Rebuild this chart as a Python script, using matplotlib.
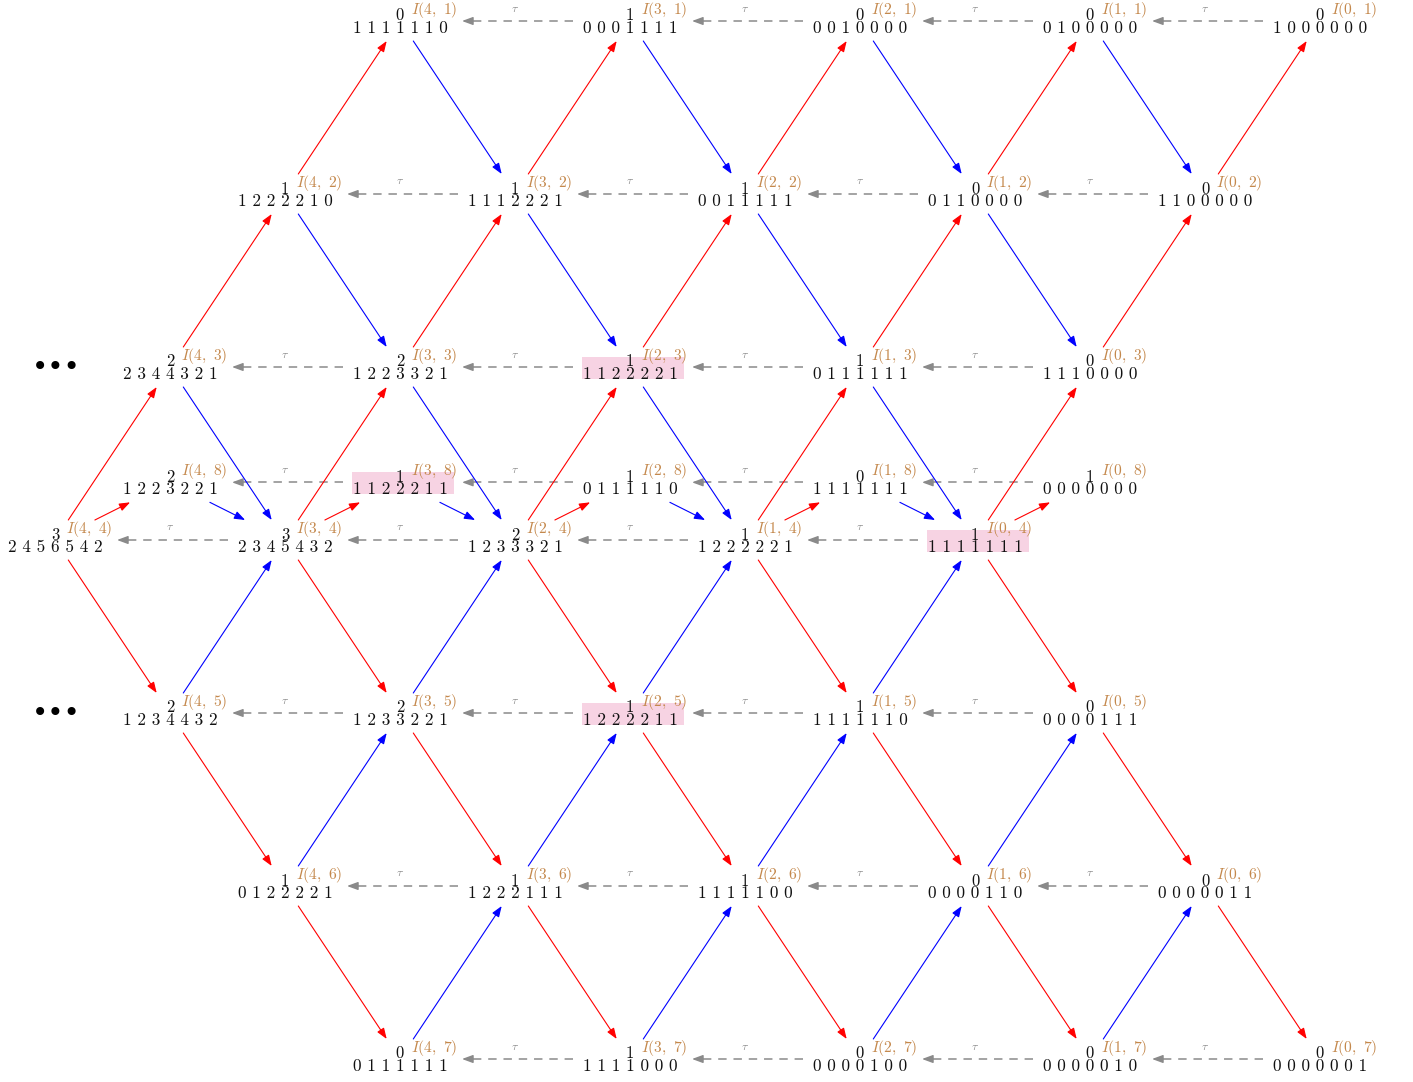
import matplotlib
matplotlib.use("Agg")
import matplotlib.pyplot as plt
from matplotlib.patches import Rectangle

plt.rcParams['mathtext.fontset'] = 'cm'

# ---------------- data ----------------
# modules I(i, r), i = 4..0 ; each entry: (top digit, bottom 7 digits)
ROW_IDS = [1, 2, 3, 8, 4, 5, 6, 7]
I_VALUES = [4, 3, 2, 1, 0]
row1 = [("0", "1111110"), ("1", "0001111"), ("0", "0010000"), ("0", "0100000"), ("0", "1000000")]
row2 = [("1", "1222210"), ("1", "1112221"), ("1", "0011111"), ("0", "0110000"), ("0", "1100000")]
row3 = [("2", "2344321"), ("2", "1223321"), ("1", "1122221"), ("1", "0111111"), ("0", "1110000")]
row8 = [("2", "1223221"), ("1", "1122211"), ("1", "0111110"), ("0", "1111111"), ("1", "0000000")]
row4 = [("3", "2456542"), ("3", "2345432"), ("2", "1233321"), ("1", "1222221"), ("1", "1111111")]
row5 = [("2", "1234432"), ("2", "1233221"), ("1", "1222211"), ("1", "1111110"), ("0", "0000111")]
row6 = [("1", "0122221"), ("1", "1222111"), ("1", "1111100"), ("0", "0000110"), ("0", "0000011")]
row7 = [("0", "0111111"), ("1", "1111000"), ("0", "0000100"), ("0", "0000010"), ("0", "0000001")]
ROWS = {1: row1, 2: row2, 3: row3, 8: row8, 4: row4, 5: row5, 6: row6, 7: row7}
HIGHLIGHT = [(3, 8), (2, 3), (0, 4), (2, 5)]
ELLIPSIS_ROWS = [3, 5]

# ---------------- layout ----------------
X0, DX = 55, 115
Y4, DY = 540, 173
LEVEL = {1: -3, 2: -2, 3: -1, 4: 0, 5: 1, 6: 2, 7: 3}

def row_y(r):
    if r == 8:
        return Y4 - DY / 3.0
    return Y4 + LEVEL[r] * DY

def col_k(i, r):
    if r == 8:
        return 9 - 2 * i
    return 8 - 2 * i + abs(LEVEL[r])

def pos(i, r):
    return X0 + DX * col_k(i, r), row_y(r)

# outward (red) / inward (blue) neighbouring row pairs: (inner, outer)
PAIRS = [(4, 3), (3, 2), (2, 1), (4, 8), (4, 5), (5, 6), (6, 7)]

LABEL_C = '#c4884c'
GRAY = '#8a8a8a'
PINK = '#f7d3e3'

fig = plt.figure(figsize=(14.13, 10.82), dpi=100)
ax = fig.add_axes([0, 0, 1, 1])
ax.set_xlim(0, 1413)
ax.set_ylim(1082, 0)
ax.axis('off')

# highlight boxes
for (i, r) in HIGHLIGHT:
    x, y = pos(i, r)
    ax.add_patch(Rectangle((x - 48, y - 10), 102, 22, facecolor=PINK,
                           edgecolor='none', zorder=0))

# nodes
for r in ROW_IDS:
    for idx, i in enumerate(I_VALUES):
        top, bottom = ROWS[r][idx]
        x, y = pos(i, r)
        ax.text(x, y - 0.5, top, ha='center', va='baseline', fontsize=12,
                family='cmr10', color='#111111', zorder=3)
        ax.text(x, y + 12, ' '.join(bottom), ha='center', va='baseline',
                fontsize=12.3, family='cmr10', color='#111111', zorder=3)
        ax.text(x + 11, y - 11, r'$I(%d,\ %d)$' % (i, r), ha='left', va='center',
                fontsize=11.2, color=LABEL_C, zorder=3)

# ellipsis
for r in ELLIPSIS_ROWS:
    ax.text(X0 + 1, row_y(r), '\u2022\u2022\u2022', ha='center', va='center',
            fontsize=20, family='DejaVu Sans', color='black')

def clip(p, q, hw=40, hh=20):
    dx, dy = q[0] - p[0], q[1] - p[1]
    t = min(hw / abs(dx) if dx else 1e9, hh / abs(dy) if dy else 1e9)
    return p[0] + dx * t, p[1] + dy * t

def arrow(p, q, color):
    a = clip(p, q)
    b = clip(q, p)
    ax.annotate('', xy=b, xytext=a,
                arrowprops=dict(arrowstyle='-|>,head_length=0.65,head_width=0.24',
                                color=color, lw=0.8, shrinkA=0, shrinkB=0),
                zorder=2)

for inner, outer in PAIRS:
    for i in I_VALUES:
        arrow(pos(i, inner), pos(i, outer), 'red')
        if i >= 1:
            arrow(pos(i, outer), pos(i - 1, inner), 'blue')

# tau arrows
for r in ROW_IDS:
    for i in I_VALUES[:-1]:
        xs, y = pos(i - 1, r)
        xe, _ = pos(i, r)
        start = xs - 57
        tip = xe + 62
        ax.plot([start, tip + 8], [y, y], color=GRAY, lw=1.1,
                linestyle=(0, (5.5, 4.5)), zorder=1)
        ax.annotate('', xy=(tip, y), xytext=(tip + 9, y),
                    arrowprops=dict(arrowstyle='-|>,head_length=0.65,head_width=0.24',
                                    color=GRAY, lw=1.0, shrinkA=0, shrinkB=0),
                    zorder=1)
        ax.text((xs + xe) / 2, y - 13, r'$\tau$', ha='center', va='center',
                fontsize=8.5, color=GRAY)

fig.savefig('out.png', dpi=100)
